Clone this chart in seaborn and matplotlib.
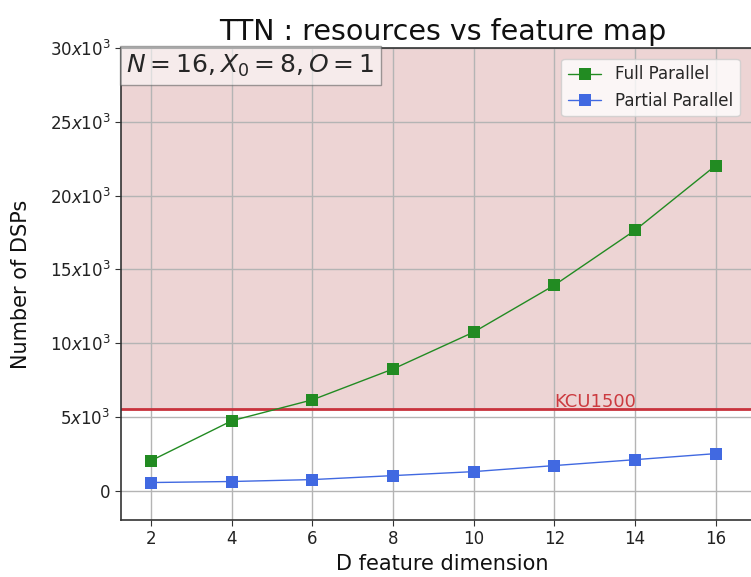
import matplotlib
matplotlib.use("Agg")
import matplotlib.pyplot as plt
import seaborn as sns
import pandas as pd

# Feature dimension D and DSP usage per architecture
dims = [2, 4, 6, 8, 10, 12, 14, 16]
full_parallel = [2030, 4730, 6150, 8240, 10740, 13920, 17640, 22030]
partial_parallel = [540, 610, 740, 1010, 1280, 1690, 2090, 2500]
series_names = ["Full Parallel", "Partial Parallel"]
board_name = "KCU1500"
board_dsps = 5520
y_ticks = [0, 5000, 10000, 15000, 20000, 25000, 30000]
y_tick_labels = ["0", r"$5x10^3$", r"$10x10^3$", r"$15x10^3$",
                 r"$20x10^3$", r"$25x10^3$", r"$30x10^3$"]

df = pd.DataFrame({
    "D": dims * 2,
    "DSPs": full_parallel + partial_parallel,
    "arch": [series_names[0]] * len(dims) + [series_names[1]] * len(dims),
})

sns.set_style("whitegrid", {"grid.color": "#b4b4b4", "axes.edgecolor": "#333333"})
fig = plt.figure(figsize=(7.51, 5.77), dpi=100)
# axes run slightly past the right edge of the canvas
ax = fig.add_axes([121 / 751, 1 - 520 / 577, 643 / 751, (520 - 48) / 577])

ax.axhspan(board_dsps, 30000, color="brown", alpha=0.2, zorder=0, lw=0)
ax.axhline(board_dsps, color="#c8323c", lw=2, zorder=1)
ax.text(12, board_dsps - 150, board_name, color="#cc3b40", fontsize=13,
        ha="left", va="bottom")

sns.lineplot(data=df, x="D", y="DSPs", hue="arch", ax=ax,
             palette=["forestgreen", "royalblue"], marker="s", markersize=8.5,
             markeredgewidth=0, linewidth=1, zorder=3)

ax.set_xlim(1.25, 17.2)
ax.set_ylim(-2000, 30000)
ax.set_xticks(dims)
ax.set_yticks(y_ticks)
ax.set_yticklabels(y_tick_labels)
ax.tick_params(axis="both", labelsize=12, length=4, color="#333333",
               labelcolor="#222222", left=True, bottom=True)
for s in ax.spines.values():
    s.set_linewidth(1.2)
ax.grid(True, color="#b4b4b4", lw=1)
for gl in ax.get_xgridlines() + ax.get_ygridlines():
    gl.set_zorder(0.5)

ax.set_xlabel("D feature dimension", fontsize=15, color="#111111")
ax.set_ylabel("Number of DSPs", fontsize=15, color="#111111")
ax.yaxis.set_label_coords(-0.14, 0.5)
ax.set_title("TTN : resources vs feature map", fontsize=20.5, pad=6,
             color="#111111")

ax.text(0.008, 0.99, r"$N=16, X_0=8, O=1$", transform=ax.transAxes,
        fontsize=18, va="top", ha="left",
        bbox=dict(boxstyle="square,pad=0.25", facecolor="white",
                  edgecolor="#555555", alpha=0.55))

leg = ax.legend(loc="upper right", bbox_to_anchor=(0.975, 0.995), fontsize=12,
                frameon=True, title=None)
leg.get_frame().set_alpha(0.8)

fig.savefig("out.png", dpi=100)
